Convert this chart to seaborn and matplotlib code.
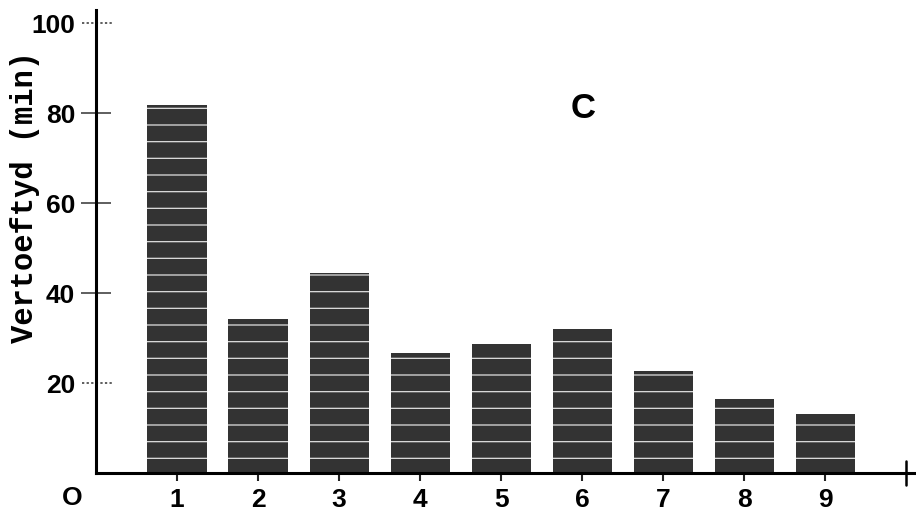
import matplotlib
matplotlib.use("Agg")
import matplotlib.pyplot as plt
import seaborn as sns
import pandas as pd

categories = [1, 2, 3, 4, 5, 6, 7, 8, 9]
values = [81.8, 34.3, 44.4, 26.8, 28.6, 32.1, 22.8, 16.4, 13.1]
yticks = [20, 40, 60, 80, 100]
dotted_ticks = [20, 100]
ylabel = "Vertoeftyd (min)"
panel_label = "C"

sns.set_theme(style="white")
plt.rcParams['font.family'] = ['Liberation Sans', 'DejaVu Sans']
plt.rcParams['hatch.linewidth'] = 0.9
plt.rcParams['text.color'] = 'black'
plt.rcParams['axes.labelcolor'] = 'black'

df = pd.DataFrame({"cat": categories, "val": values})

fig = plt.figure(figsize=(9.16, 5.2), dpi=100)
ax = fig.add_axes([96 / 916, 47 / 520, 1 - 96 / 916, 463 / 520])

sns.barplot(data=df, x="cat", y="val", native_scale=True, width=0.73,
            color="#333333", saturation=1, ax=ax, errorbar=None)
for p in ax.patches:
    p.set_hatch('-')
    p.set_edgecolor('#e0e0e0')
    p.set_linewidth(0)

ax.set_xlim(0, 10.12)
ax.set_ylim(0, 103)

for s in ['top', 'right']:
    ax.spines[s].set_visible(False)
for s in ['left', 'bottom']:
    ax.spines[s].set_color('black')
    ax.spines[s].set_linewidth(2.2)

ax.tick_params(left=True, bottom=True, labelcolor='black')
ax.set_yticks(yticks)
ax.set_yticklabels([str(v) for v in yticks], fontsize=19, fontweight='bold')
ax.tick_params(axis='y', direction='inout', length=22, width=1.1, color='#333333', pad=4)
for t, v in zip(ax.yaxis.get_major_ticks(), yticks):
    if v in dotted_ticks:
        t.tick1line.set_visible(False)
        ax.plot([-0.17, 0.21], [v, v], ls=(0, (1.5, 1.5)), lw=1.1, color='#333333', clip_on=False)

ax.set_xticks(categories + [10])
ax.set_xticklabels([str(c) for c in categories] + [""], fontsize=19, fontweight='bold')
ax.tick_params(axis='x', direction='out', length=6, width=1.5, color='#222222', pad=5)
last = ax.xaxis.get_major_ticks()[-1]
last.tick1line.set_visible(False)
ax.plot([10, 10], [-2.6, 2.6], color='black', lw=1.8, clip_on=False)

ax.set_xlabel("")
ax.set_ylabel(ylabel, fontsize=22, fontweight='bold', family=['Liberation Mono', 'DejaVu Sans Mono'])
ax.yaxis.set_label_coords(-0.068, 0.596)

ax.annotate("O", xy=(0, 0), xycoords='data', xytext=(-24, -25), textcoords='offset pixels',
            ha='center', va='center', fontsize=19, fontweight='bold')
ax.text(583, 520 - 108, panel_label, transform=None, ha='center', va='center',
        fontsize=25, fontweight='bold')

fig.savefig("out.png", dpi=100)
